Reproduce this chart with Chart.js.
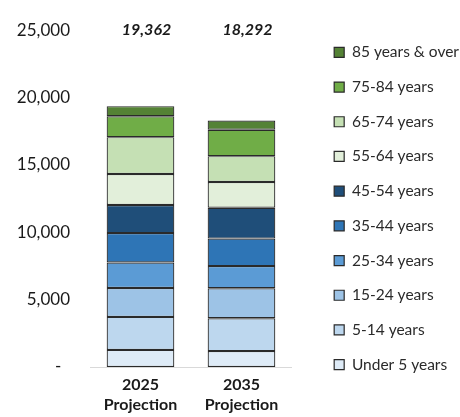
<!DOCTYPE html>
<html>
<head>
<meta charset="utf-8">
<script src="https://cdn.jsdelivr.net/npm/chart.js@4"></script>
<style>
  html, body { margin: 0; padding: 0; background: #fff; }
  #wrap { width: 460px; height: 417px; }
</style>
</head>
<body>
<div id="wrap"><canvas id="popChart" width="460" height="417"></canvas></div>
<script>
// Categorias e faixas etárias
const years = [['2025', 'Projection'], ['2035', 'Projection']];
const ageGroups = ['Under 5 years', '5-14 years', '15-24 years', '25-34 years', '35-44 years',
                   '45-54 years', '55-64 years', '65-74 years', '75-84 years', '85 years & over'];

// População por faixa (2025, 2035)
const under5   = [1270, 1180];
const age5_14  = [2450, 2440];
const age15_24 = [2140, 2220];
const age25_34 = [1900, 1650];
const age35_44 = [2180, 2040];
const age45_54 = [2090, 2290];
const age55_64 = [2300, 1910];
const age65_74 = [2730, 1920];
const age75_84 = [1550, 1960];
const age85up  = [752, 682];

const yTicks = [0, 5000, 10000, 15000, 20000, 25000];

const seriesValues = [under5, age5_14, age15_24, age25_34, age35_44, age45_54, age55_64, age65_74, age75_84, age85up];
const colors = ['#deebf7', '#bdd7ee', '#9dc3e6', '#5b9bd5', '#2e75b6', '#1f4e79',
                '#e2efda', '#c5e0b4', '#70ad47', '#548235'];

const FONT = 'Lato, "Open Sans", sans-serif';

// Totais acima das barras
const totalsPlugin = {
    id: 'totals',
    afterDatasetsDraw(chart) {
        const ctx = chart.ctx;
        const xScale = chart.scales.x;
        const yScale = chart.scales.y;
        ctx.save();
        ctx.font = 'italic bold 16px ' + FONT;
        ctx.fillStyle = '#1a1a1a';
        ctx.textAlign = 'center';
        ctx.textBaseline = 'middle';
        years.forEach((_, i) => {
            const total = seriesValues.reduce((s, arr) => s + arr[i], 0);
            ctx.fillText(total.toLocaleString('en-US'), xScale.getPixelForValue(i) + 6, yScale.getPixelForValue(25000));
        });
        ctx.restore();
    }
};

const datasets = ageGroups.map((name, i) => ({
    label: name,
    data: seriesValues[i],
    backgroundColor: colors[i],
    borderColor: '#2a2a2a',
    borderWidth: 1.2,
    borderSkipped: false,
    barPercentage: 0.67,
    categoryPercentage: 1
}));

// eixos invisíveis só para reservar espaço
const spacer = (position, size) => ({
    position: position,
    display: true,
    grid: { display: false, drawTicks: false },
    border: { display: false },
    ticks: { display: false },
    afterFit(scale) {
        if (scale.isHorizontal()) scale.height = size;
        else scale.width = size;
    }
});

new Chart(document.getElementById('popChart'), {
    type: 'bar',
    data: { labels: years, datasets: datasets },
    plugins: [totalsPlugin],
    options: {
        responsive: false,
        animation: false,
        layout: { padding: { top: 0, right: -9, bottom: 0, left: 0 } },
        plugins: {
            tooltip: { enabled: false },
            legend: {
                position: 'right',
                reverse: true,
                maxWidth: 170,
                labels: {
                    boxWidth: 10,
                    boxHeight: 10,
                    padding: 19.2,
                    color: '#2a2a2a',
                    font: { family: FONT, size: 15.5 }
                }
            }
        },
        scales: {
            x: {
                stacked: true,
                grid: { display: false, drawTicks: false },
                border: { display: true, color: '#d9d9d9', width: 1 },
                ticks: {
                    color: '#1a1a1a',
                    padding: 8,
                    font: { family: FONT, size: 16, weight: 'bold', lineHeight: 1.25 }
                },
                afterFit(scale) { scale.height = 50; }
            },
            y: {
                stacked: true,
                min: 0,
                max: 25000,
                grid: { display: false, drawTicks: false },
                border: { display: false },
                afterBuildTicks(scale) { scale.ticks = yTicks.map(v => ({ value: v })); },
                ticks: {
                    color: '#1a1a1a',
                    padding: 20,
                    font: { family: FONT, size: 17 },
                    callback: v => v === 0 ? '-  ' : v.toLocaleString('en-US')
                },
                afterFit(scale) { scale.width = 90; }
            },
            gapTop: spacer('top', 16),
            gapRight: spacer('right', 23)
        }
    }
});
</script>
</body>
</html>
